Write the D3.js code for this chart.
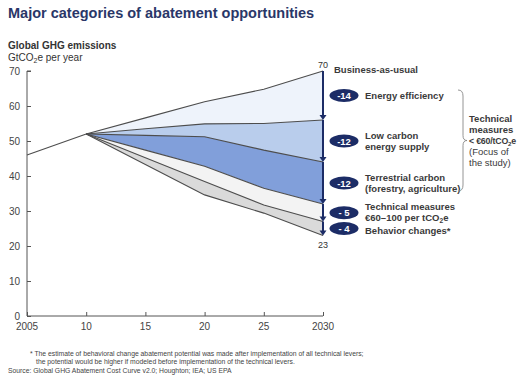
<!DOCTYPE html>
<html>
<head>
<meta charset="utf-8">
<script src="https://cdn.jsdelivr.net/npm/d3@7"></script>
<style>
  body { margin: 0; background: #fff; }
  text { font-family: Arial, "Liberation Sans", sans-serif; }
</style>
</head>
<body>
<svg id="chart" width="521" height="379"></svg>
<script>
// emissions, GtCO2e per year
var years = [2005, 2010, 2015, 2020, 2025, 2030];
var bau = [46, 52, 56.6, 61.2, 64.8, 70];
var afterEfficiency = [null, 52, 53.5, 54.9, 55.0, 56];
var afterSupply = [null, 52, 51.6, 51.2, 47.4, 44];
var afterTerrestrial = [null, 52, 47.4, 42.8, 36.5, 32];
var afterTechnical = [null, 52, 45.2, 38.4, 31.7, 27];
var afterBehavior = [null, 52, 43.3, 34.6, 29.4, 23];

var xTicks = [2005, 2010, 2015, 2020, 2025, 2030];
var xTickLabels = ["2005", "10", "15", "20", "25", "2030"];
var yTicks = [0, 10, 20, 30, 40, 50, 60, 70];

var reductions = ["-14", "-12", "-12", "- 5", "- 4"];
// "_2" marks a subscript 2
var levers = [["Energy efficiency"], ["Low carbon", "energy supply"],
  ["Terrestrial carbon", "(forestry, agriculture)"],
  ["Technical measures", "€60–100 per tCO_2e"], ["Behavior changes*"]];
var bandColors = ["#eef3fb", "#b9cdec", "#819fda", "#f3f3f3", "#dadada"];

var svg = d3.select("#chart");
var navy = "#1c2c66";

var x = d3.scaleLinear().domain([2005, 2030]).range([27, 323]);
var y = d3.scaleLinear().domain([0, 70]).range([316, 71]);

function richText(sel, str, size){
  var parts = str.split("_2");
  parts.forEach(function(p, i){
    if (i > 0) {
      sel.append("tspan").attr("font-size", size * 0.7).attr("dy", 2).text("2");
      sel.append("tspan").attr("dy", -2).text(p);
    } else {
      sel.append("tspan").text(p);
    }
  });
}

// title
svg.append("text").attr("x", 8).attr("y", 18)
  .attr("font-size", 14.5).attr("font-weight", "bold").attr("fill", "#2a3768")
  .text("Major categories of abatement opportunities");

svg.append("text").attr("x", 8).attr("y", 49)
  .attr("font-size", 10).attr("font-weight", "bold").attr("fill", "#333")
  .text("Global GHG emissions");
richText(svg.append("text").attr("x", 8).attr("y", 61)
  .attr("font-size", 10).attr("fill", "#333"), "GtCO_2e per year", 10);

// bands
var series = [bau, afterEfficiency, afterSupply, afterTerrestrial, afterTechnical, afterBehavior];
var idx = d3.range(1, years.length);
var area = function(top, bottom){
  return d3.area()
    .x(function(i){ return x(years[i]); })
    .y0(function(i){ return y(bottom[i]); })
    .y1(function(i){ return y(top[i]); });
};
for (var s = 0; s < 5; s++) {
  svg.append("path").datum(idx)
    .attr("d", area(series[s], series[s + 1]))
    .attr("fill", bandColors[s]);
}

var line = d3.line().defined(function(d){ return d != null; })
  .x(function(d, i){ return x(years[i]); })
  .y(function(d){ return y(d); });
series.forEach(function(d){
  svg.append("path").datum(d).attr("d", line)
    .attr("fill", "none").attr("stroke", "#4d4d4d").attr("stroke-width", 1.1);
});

// axes
var yAxis = svg.append("g").attr("transform", "translate(27,0)")
  .call(d3.axisRight(y).tickValues(yTicks).tickSize(4).tickFormat(""));
yAxis.selectAll("line, path").attr("stroke", "#555");
yAxis.select(".domain").attr("d", "M4," + y(70) + "H0V" + y(0));
yTicks.forEach(function(t){
  svg.append("text").attr("x", 20).attr("y", y(t) + 3.5)
    .attr("text-anchor", "end").attr("font-size", 10).attr("fill", "#444")
    .text(t);
});

var xAxis = svg.append("g").attr("transform", "translate(0," + y(0) + ")")
  .call(d3.axisTop(x).tickValues(xTicks).tickSize(4).tickFormat(""));
xAxis.selectAll("line, path").attr("stroke", "#555");
xAxis.select(".domain").attr("d", "M27,0H323");
xTicks.forEach(function(t, i){
  svg.append("text").attr("x", x(t)).attr("y", 330)
    .attr("text-anchor", "middle").attr("font-size", 10).attr("fill", "#444")
    .text(xTickLabels[i]);
});

// arrow segments at 2030
var stops = series.map(function(d){ return d[d.length - 1]; });
var ax = x(2030);
for (var k = 0; k < 5; k++) {
  var y0 = y(stops[k]), y1 = y(stops[k + 1]);
  svg.append("line").attr("x1", ax).attr("x2", ax)
    .attr("y1", y0).attr("y2", y1 - 3)
    .attr("stroke", navy).attr("stroke-width", 2);
  svg.append("path")
    .attr("d", "M" + (ax - 3.5) + "," + (y1 - 5) + "L" + (ax + 3.5) + "," + (y1 - 5) + "L" + ax + "," + y1 + "Z")
    .attr("fill", navy);

  var my = y((stops[k] + stops[k + 1]) / 2);
  svg.append("ellipse").attr("cx", 344).attr("cy", my)
    .attr("rx", 14.5).attr("ry", 6.5).attr("fill", navy);
  svg.append("text").attr("x", 344).attr("y", my + 3.5)
    .attr("text-anchor", "middle").attr("font-size", 9.5).attr("font-weight", "bold")
    .attr("fill", "#fff").text(reductions[k]);

  var lines = levers[k];
  var ly = k == 4 ? my + 5 : my + 3.5 - (lines.length - 1) * 5.5;
  if (k == 3) ly = my - 2.5;
  lines.forEach(function(t, j){
    richText(svg.append("text").attr("x", 365).attr("y", ly + j * 11)
      .attr("font-size", 9.5).attr("font-weight", "bold").attr("fill", "#3a3a3a"), t, 9.5);
  });
}

svg.append("text").attr("x", ax).attr("y", 68).attr("text-anchor", "middle")
  .attr("font-size", 9).attr("fill", "#333").text(stops[0]);
svg.append("text").attr("x", ax).attr("y", y(stops[5]) + 12).attr("text-anchor", "middle")
  .attr("font-size", 9).attr("fill", "#333").text(stops[5]);
svg.append("text").attr("x", 334).attr("y", 73)
  .attr("font-size", 9.5).attr("font-weight", "bold").attr("fill", "#3a3a3a")
  .text("Business-as-usual");

// brace
var bx = 458, bTop = 90, bBot = 191, bMid = (bTop + bBot) / 2;
svg.append("path")
  .attr("d", "M" + bx + "," + bTop + "Q" + (bx + 5) + "," + bTop + " " + (bx + 5) + "," + (bTop + 6) +
    "L" + (bx + 5) + "," + (bMid - 5) + "Q" + (bx + 5) + "," + bMid + " " + (bx + 9) + "," + bMid +
    "Q" + (bx + 5) + "," + bMid + " " + (bx + 5) + "," + (bMid + 5) +
    "L" + (bx + 5) + "," + (bBot - 6) + "Q" + (bx + 5) + "," + bBot + " " + bx + "," + bBot)
  .attr("fill", "none").attr("stroke", "#888").attr("stroke-width", 0.9);

var focus = ["Technical", "measures", "< €60/tCO_2e", "(Focus of", "the study)"];
focus.forEach(function(t, j){
  richText(svg.append("text").attr("x", 469).attr("y", 122 + j * 11)
    .attr("font-size", j == 2 ? 8.8 : 9.5).attr("font-weight", j < 3 ? "bold" : "normal")
    .attr("letter-spacing", j == 2 ? -0.2 : 0)
    .attr("fill", "#3a3a3a"), t, 8.8);
});

// notes
var notes = [
  [30, 356, "* The estimate of behavioral change abatement potential was made after implementation of all technical levers;"],
  [36, 364, "the potential would be higher if modeled before implementation of the technical levers."],
  [8, 373, "Source: Global GHG Abatement Cost Curve v2.0; Houghton; IEA; US EPA"]
];
notes.forEach(function(n){
  svg.append("text").attr("x", n[0]).attr("y", n[1])
    .attr("font-size", 6.8).attr("fill", "#444").text(n[2]);
});
</script>
</body>
</html>
